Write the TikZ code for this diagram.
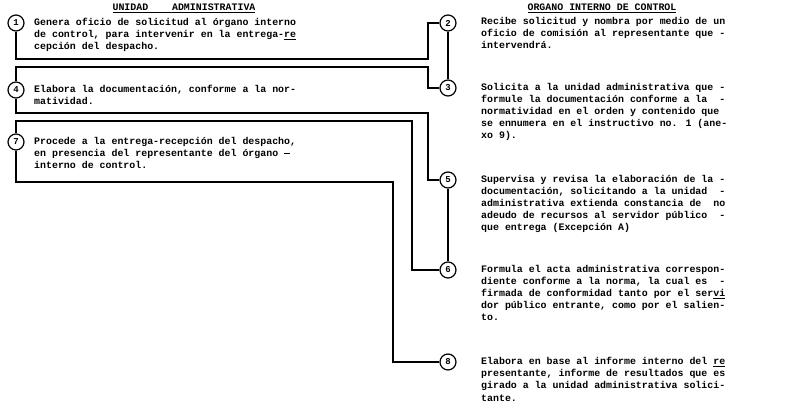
\documentclass[tikz,border=0pt]{standalone}
\usepackage{fontspec}
\newfontfamily\prmono{Liberation Mono}
\begin{document}
\begin{tikzpicture}[x=1pt,y=-1pt,
  num/.style={circle,draw,line width=1.2pt,minimum size=16pt,inner sep=0pt,
    font=\prmono\bfseries\fontsize{9}{9}\selectfont},
  txt/.style={anchor=base west,inner sep=0pt,
    font=\prmono\bfseries\fontsize{9.92}{12}\selectfont},
  head/.style={anchor=base,inner sep=0pt,
    font=\prmono\bfseries\fontsize{9.92}{12}\selectfont},
  conn/.style={line width=1.1pt}]
\useasboundingbox (0,0) rectangle (788,406);

% headers
\node[head] (h1) at (184,11) {\underline{UNIDAD\ \ \ \ ADMINISTRATIVA}};
\node[head] (h2) at (602,11) {\underline{ORGANO INTERNO DE CONTROL}};

% step circles
\node[num] (c1) at (16,23) {1};
\node[num] (c4) at (16,90) {4};
\node[num] (c7) at (16,142) {7};
\node[num] (c2) at (448,23) {2};
\node[num] (c3) at (448,88) {3};
\node[num] (c5) at (448,180) {5};
\node[num] (c6) at (448,270) {6};
\node[num] (c8) at (448,362) {8};

% left texts
\node[txt] (t1) at (34,26) {\parbox[t]{300pt}{Genera oficio de solicitud al órgano interno\\
de control, para intervenir en la entrega-\underline{re}\\
cepción del despacho.}};
\node[txt] (t4) at (34,93) {\parbox[t]{300pt}{Elabora la documentación, conforme a la nor-\\
matividad.}};
\node[txt] (t7) at (34,145) {\parbox[t]{300pt}{Procede a la entrega-recepción del despacho,\\
en presencia del representante del órgano —\\
interno de control.}};

% right texts
\node[txt] (t2) at (481,25) {\parbox[t]{300pt}{Recibe solicitud y nombra por medio de un\\
oficio de comisión al representante que -\\
intervendrá.}};
\node[txt] (t3) at (481,91) {\parbox[t]{300pt}{Solicita a la unidad administrativa que -\\
formule la documentación conforme a la\ \ -\\
normatividad en el orden y contenido que\\
se ennumera en el instructivo no. 1 (ane-\\
xo 9).}};
\node[txt] (t5) at (481,183) {\parbox[t]{300pt}{Supervisa y revisa la elaboración de la -\\
documentación, solicitando a la unidad\ \ -\\
administrativa extienda constancia de\ \ no\\
adeudo de recursos al servidor público\ \ -\\
que entrega (Excepción A)}};
\node[txt] (t6) at (481,273) {\parbox[t]{300pt}{Formula el acta administrativa correspon-\\
diente conforme a la norma, la cual es\ \ -\\
firmada de conformidad tanto por el ser\underline{vi}\\
dor público entrante, como por el salien-\\
to.}};
\node[txt] (t8) at (481,365) {\parbox[t]{300pt}{Elabora en base al informe interno del \underline{re}\\
presentante, informe de resultados que es\\
girado a la unidad administrativa solici-\\
tante.}};

% bend points
\coordinate (k12) at (428,59);
\coordinate (k34) at (428,67);
\coordinate (k45) at (428,113);
\coordinate (k67) at (412,121);
\coordinate (k78) at (393,182);

% connectors
\draw[conn] (c1) |- (k12) |- (c2);
\draw[conn] (c2) -- (c3);
\draw[conn] (c3) -| (k34) -| (c4);
\draw[conn] (c4) |- (k45) |- (c5);
\draw[conn] (c5) -- (c6);
\draw[conn] (c6) -| (k67) -| (c7);
\draw[conn] (c7) |- (k78) |- (c8);
\end{tikzpicture}
\end{document}
